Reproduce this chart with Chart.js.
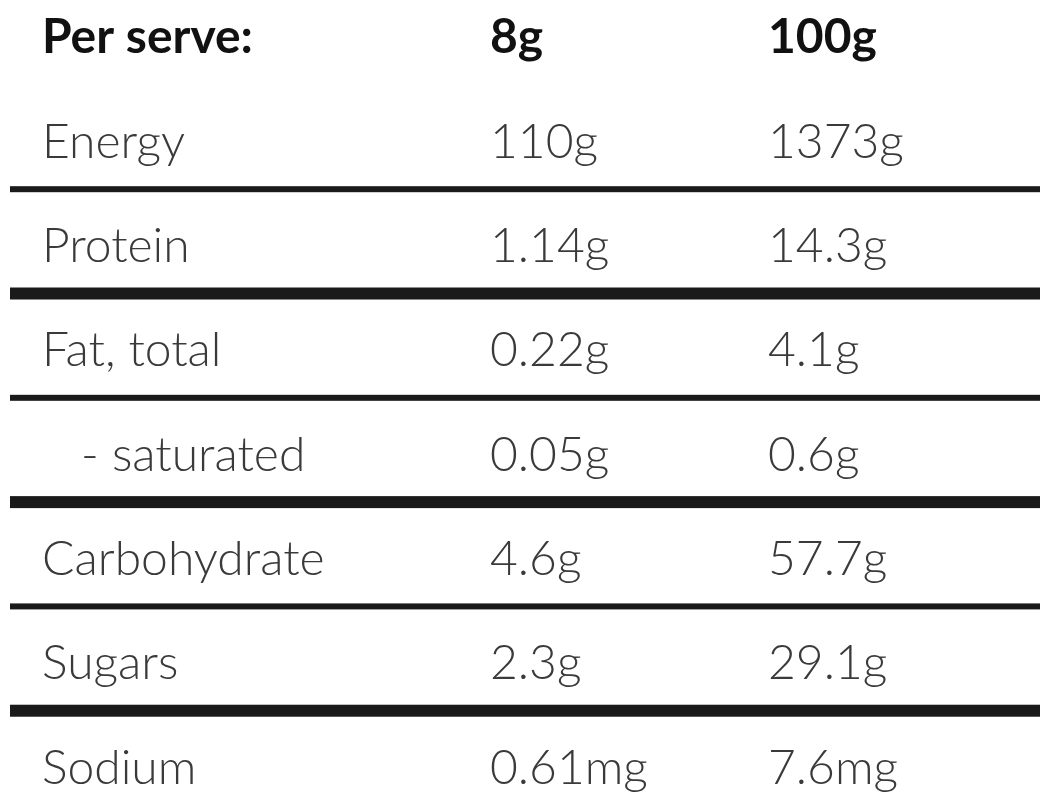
<!DOCTYPE html>
<html>
<head>
<meta charset="utf-8">
<script src="https://cdn.jsdelivr.net/npm/chart.js@4/dist/chart.umd.min.js"></script>
<style>
  html, body { margin: 0; padding: 0; background: #fff; }
  #wrap { width: 1059px; height: 800px; }
</style>
</head>
<body>
<div id="wrap"><canvas id="table"></canvas></div>
<script>
// table contents
const headers = ['Per serve:', '8g', '100g'];
const nutrients = ['Energy', 'Protein', 'Fat, total', '   - saturated', 'Carbohydrate', 'Sugars', 'Sodium'];
const perServe = ['110g', '1.14g', '0.22g', '0.05g', '4.6g', '2.3g', '0.61mg'];
const per100g = ['1373g', '14.3g', '4.1g', '0.6g', '57.7g', '29.1g', '7.6mg'];
// divider below each nutrient row: 'thin' or 'thick'
const dividers = ['thin', 'thick', 'thin', 'thick', 'thin', 'thick'];
const columnX = [42, 490, 768];

const rows = [headers].concat(nutrients.map((n, i) => [n, perServe[i], per100g[i]]));

const cells = [];
rows.forEach((r, ri) => r.forEach((txt, ci) => cells.push({ x: columnX[ci], y: ri, text: txt, header: ri === 0 })));

const tablePlugin = {
    id: 'tableText',
    afterDatasetsDraw(chart) {
        const ctx = chart.ctx;
        const xs = chart.scales.x, ys = chart.scales.y;
        ctx.save();
        // divider lines
        dividers.forEach((kind, i) => {
            const y = ys.getPixelForValue(i + 1.45);
            ctx.fillStyle = '#1a1a1a';
            const h = kind === 'thick' ? 12 : 6;
            ctx.fillRect(xs.getPixelForValue(10), y - h / 2, xs.getPixelForValue(1040) - xs.getPixelForValue(10), h);
        });
        // cell text
        const meta = chart.getDatasetMeta(0);
        meta.data.forEach((pt, i) => {
            const c = cells[i];
            ctx.font = c.header ? 'bold 48px Lato' : '300 48px Lato';
            ctx.fillStyle = c.header ? '#111' : '#3a3a3a';
            ctx.textBaseline = 'middle';
            ctx.textAlign = 'left';
            ctx.fillText(c.text, pt.x, pt.y);
        });
        ctx.restore();
    }
};

new Chart(document.getElementById('table'), {
    type: 'scatter',
    data: { datasets: [{ data: cells.map(c => ({ x: c.x, y: c.y })), pointRadius: 0 }] },
    options: {
        responsive: true,
        maintainAspectRatio: false,
        animation: false,
        layout: { padding: 0 },
        plugins: { legend: { display: false }, tooltip: { enabled: false } },
        scales: {
            x: { type: 'linear', min: 0, max: 1059, display: false },
            y: { type: 'linear', reverse: true, min: -0.364, max: 7.306, display: false }
        }
    },
    plugins: [tablePlugin]
});
</script>
</body>
</html>
